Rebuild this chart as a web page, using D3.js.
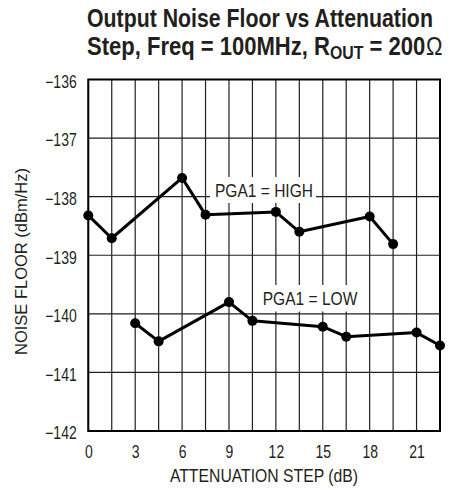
<!DOCTYPE html>
<html><head><meta charset="utf-8">
<script src="https://cdn.jsdelivr.net/npm/d3@7"></script>
<style>
body{margin:0;background:#fff;}
text{font-family:"Liberation Sans","Arial",sans-serif;}
</style></head>
<body><svg id="c" width="471" height="491"></svg>
<script>
const titleLine1 = "Output Noise Floor vs Attenuation";
const titleLine2a = "Step, Freq = 100MHz, R";
const titleSub = "OUT";
const titleLine2b = " = 200";
const titleOhm = "\u03A9";
const xLabel = "ATTENUATION STEP (dB)";
const yLabel = "NOISE FLOOR (dBm/Hz)";
const xTicks = [0, 3, 6, 9, 12, 15, 18, 21];
const xGrid = [0,1.5,3,4.5,6,7.5,9,10.5,12,13.5,15,16.5,18,19.5,21,22.5];
const yTicks = [-142, -141, -140, -139, -138, -137, -136];
const highSteps = [0, 1.5, 6, 7.5, 12, 13.5, 18, 19.5];
const highValues = [-138.32, -138.71, -137.68, -138.31, -138.26, -138.60, -138.34, -138.81];
const lowSteps = [3, 4.5, 9, 10.5, 15, 16.5, 21, 22.5];
const lowValues = [-140.16, -140.47, -139.80, -140.12, -140.22, -140.39, -140.32, -140.54];
const highLabel = "PGA1 = HIGH";
const lowLabel = "PGA1 = LOW";

const svg = d3.select("#c");
const L = 88.3, R = 440, T = 79.5, B = 431;
const x = d3.scaleLinear().domain([0, 22.5]).range([L, R]);
const y = d3.scaleLinear().domain([-142, -136]).range([B, T]);
const INK = "#231f20";

function ctext(parent, px, py, size, w, anchor, rot){
  const t = parent.append("text").attr("x", 0).attr("y", 0).attr("font-size", size)
    .attr("fill", INK).attr("text-anchor", anchor || "start");
  t.fitTo = function(){
    const len = t.node().getComputedTextLength();
    const s = w / len;
    t.attr("transform", `translate(${px},${py})` + (rot ? ` rotate(${rot})` : "") + ` scale(${s},1)`);
    return t;
  };
  return t;
}

// title
ctext(svg, 87, 26.7, 25, 346, "start").attr("font-weight", "bold").text(titleLine1).fitTo();
const t2 = ctext(svg, 87, 55, 25, 355, "start").attr("font-weight", "bold");
t2.append("tspan").text(titleLine2a);
t2.append("tspan").attr("dy", 4).attr("font-size", 18).text(titleSub);
t2.append("tspan").attr("dy", -4).text(titleLine2b);
t2.append("tspan").attr("font-weight", "normal").attr("dx", 1).text(titleOhm);
t2.fitTo();

// grid
const g = svg.append("g");
g.selectAll("line.vg").data(xGrid).join("line").attr("class","vg")
  .attr("x1", d => x(d)).attr("x2", d => x(d)).attr("y1", T).attr("y2", B)
  .attr("stroke", INK).attr("stroke-width", 1.2);
g.selectAll("line.hg").data(yTicks).join("line").attr("class","hg")
  .attr("x1", L).attr("x2", R).attr("y1", d => y(d)).attr("y2", d => y(d))
  .attr("stroke", INK).attr("stroke-width", 1.2);

// label boxes
function label(txt, xStart, baseline, w, box){
  svg.append("rect").attr("x", box[0]).attr("y", box[1]).attr("width", box[2]-box[0]).attr("height", box[3]-box[1]).attr("fill", "#fff");
  ctext(svg, xStart, baseline, 18.5, w, "start").text(txt).fitTo();
}
label(highLabel, 215, 197.3, 98, [210, 177, 316, 203]);
label(lowLabel, 262.7, 305, 94.7, [256, 285, 366, 311.5]);

// frame
svg.append("rect").attr("x", L).attr("y", T).attr("width", R-L).attr("height", B-T)
  .attr("fill", "none").attr("stroke", "#000").attr("stroke-width", 2);

// axes
const SX = 0.8;
const yAxis = d3.axisLeft(y).tickValues(yTicks).tickSize(0).tickPadding(11.6)
  .tickFormat(d => String(d).replace("-", "\u2212"));
const ya = svg.append("g").attr("transform", `translate(${L},0)`).call(yAxis);
ya.select(".domain").remove();
ya.selectAll("text").attr("font-size", 17.5).attr("fill", INK).attr("font-family", null)
  .attr("x", -11.6 / SX).attr("dy", "0.45em").attr("transform", `scale(${SX},1)`);

const xAxis = d3.axisBottom(x).tickValues(xTicks).tickSize(0).tickPadding(14.3);
const xa = svg.append("g").attr("transform", `translate(0,${B})`).call(xAxis);
xa.select(".domain").remove();
xa.selectAll("text").attr("font-size", 17.5).attr("fill", INK).attr("font-family", null)
  .attr("transform", `scale(${SX},1)`);

ctext(svg, 264, 481.7, 18, 188.3, "middle").text(xLabel).fitTo();
ctext(svg, 27, 261.5, 17, 187, "middle", -90).text(yLabel).fitTo();

// series
const line = d3.line().x(d => x(d[0])).y(d => y(d[1]));
const series = [d3.zip(highSteps, highValues), d3.zip(lowSteps, lowValues)];
series.forEach(s => {
  svg.append("path").datum(s).attr("d", line).attr("fill", "none")
    .attr("stroke", "#000").attr("stroke-width", 3).attr("stroke-linejoin", "round");
  svg.append("g").selectAll("circle").data(s).join("circle")
    .attr("cx", d => x(d[0])).attr("cy", d => y(d[1])).attr("r", 5).attr("fill", "#000");
});
</script></body></html>
